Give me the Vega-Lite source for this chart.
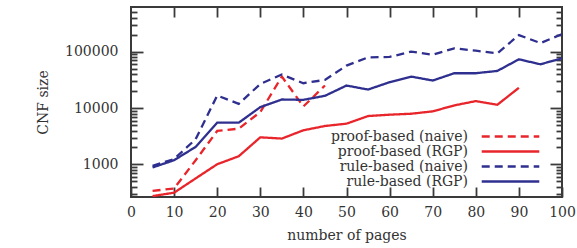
{
  "$schema": "https://vega.github.io/schema/vega-lite/v6.json",
  "width": 431,
  "height": 190,
  "autosize": {"type": "none"},
  "padding": {"left": 131, "top": 7, "right": 15, "bottom": 51},
  "background": "white",
  "config": {
    "font": "DejaVu Serif",
    "view": {"stroke": "#3a3a3a", "strokeWidth": 2},
    "axis": {
      "labelFont": "DejaVu Serif",
      "titleFont": "DejaVu Serif",
      "labelFontSize": 14,
      "titleFontSize": 14,
      "titleFontWeight": "normal",
      "labelColor": "#333",
      "titleColor": "#333",
      "tickColor": "#3a3a3a",
      "tickWidth": 1.8,
      "domain": false,
      "grid": false
    },
    "legend": {
      "labelFont": "DejaVu Serif",
      "labelFontSize": 14,
      "labelColor": "#333"
    }
  },
  "data": {
    "values": [
      {"pages": 5, "size": 340, "series": "proof-based (naive)"},
      {"pages": 10, "size": 375, "series": "proof-based (naive)"},
      {"pages": 15, "size": 1190, "series": "proof-based (naive)"},
      {"pages": 20, "size": 3930, "series": "proof-based (naive)"},
      {"pages": 25, "size": 4320, "series": "proof-based (naive)"},
      {"pages": 30, "size": 8500, "series": "proof-based (naive)"},
      {"pages": 35, "size": 36200, "series": "proof-based (naive)"},
      {"pages": 40, "size": 10700, "series": "proof-based (naive)"},
      {"pages": 45, "size": 25100, "series": "proof-based (naive)"},

      {"pages": 5, "size": 275, "series": "proof-based (RGP)"},
      {"pages": 10, "size": 316, "series": "proof-based (RGP)"},
      {"pages": 15, "size": 566, "series": "proof-based (RGP)"},
      {"pages": 20, "size": 1010, "series": "proof-based (RGP)"},
      {"pages": 25, "size": 1400, "series": "proof-based (RGP)"},
      {"pages": 30, "size": 3030, "series": "proof-based (RGP)"},
      {"pages": 35, "size": 2880, "series": "proof-based (RGP)"},
      {"pages": 40, "size": 4040, "series": "proof-based (RGP)"},
      {"pages": 45, "size": 4810, "series": "proof-based (RGP)"},
      {"pages": 50, "size": 5290, "series": "proof-based (RGP)"},
      {"pages": 55, "size": 7220, "series": "proof-based (RGP)"},
      {"pages": 60, "size": 7630, "series": "proof-based (RGP)"},
      {"pages": 65, "size": 7940, "series": "proof-based (RGP)"},
      {"pages": 70, "size": 8740, "series": "proof-based (RGP)"},
      {"pages": 75, "size": 11150, "series": "proof-based (RGP)"},
      {"pages": 80, "size": 13300, "series": "proof-based (RGP)"},
      {"pages": 85, "size": 11450, "series": "proof-based (RGP)"},
      {"pages": 90, "size": 22900, "series": "proof-based (RGP)"},

      {"pages": 5, "size": 946, "series": "rule-based (naive)"},
      {"pages": 10, "size": 1250, "series": "rule-based (naive)"},
      {"pages": 15, "size": 2800, "series": "rule-based (naive)"},
      {"pages": 20, "size": 16700, "series": "rule-based (naive)"},
      {"pages": 25, "size": 11900, "series": "rule-based (naive)"},
      {"pages": 30, "size": 26800, "series": "rule-based (naive)"},
      {"pages": 35, "size": 39300, "series": "rule-based (naive)"},
      {"pages": 40, "size": 27600, "series": "rule-based (naive)"},
      {"pages": 45, "size": 31600, "series": "rule-based (naive)"},
      {"pages": 50, "size": 56600, "series": "rule-based (naive)"},
      {"pages": 55, "size": 79400, "series": "rule-based (naive)"},
      {"pages": 60, "size": 80800, "series": "rule-based (naive)"},
      {"pages": 65, "size": 100000, "series": "rule-based (naive)"},
      {"pages": 70, "size": 88500, "series": "rule-based (naive)"},
      {"pages": 75, "size": 114500, "series": "rule-based (naive)"},
      {"pages": 80, "size": 104000, "series": "rule-based (naive)"},
      {"pages": 85, "size": 93500, "series": "rule-based (naive)"},
      {"pages": 90, "size": 197000, "series": "rule-based (naive)"},
      {"pages": 95, "size": 142000, "series": "rule-based (naive)"},
      {"pages": 100, "size": 205000, "series": "rule-based (naive)"},

      {"pages": 5, "size": 885, "series": "rule-based (RGP)"},
      {"pages": 10, "size": 1190, "series": "rule-based (RGP)"},
      {"pages": 15, "size": 2050, "series": "rule-based (RGP)"},
      {"pages": 20, "size": 5500, "series": "rule-based (RGP)"},
      {"pages": 25, "size": 5500, "series": "rule-based (RGP)"},
      {"pages": 30, "size": 10400, "series": "rule-based (RGP)"},
      {"pages": 35, "size": 14200, "series": "rule-based (RGP)"},
      {"pages": 40, "size": 14000, "series": "rule-based (RGP)"},
      {"pages": 45, "size": 16500, "series": "rule-based (RGP)"},
      {"pages": 50, "size": 25100, "series": "rule-based (RGP)"},
      {"pages": 55, "size": 21300, "series": "rule-based (RGP)"},
      {"pages": 60, "size": 28800, "series": "rule-based (RGP)"},
      {"pages": 65, "size": 36200, "series": "rule-based (RGP)"},
      {"pages": 70, "size": 30800, "series": "rule-based (RGP)"},
      {"pages": 75, "size": 41500, "series": "rule-based (RGP)"},
      {"pages": 80, "size": 41500, "series": "rule-based (RGP)"},
      {"pages": 85, "size": 45600, "series": "rule-based (RGP)"},
      {"pages": 90, "size": 73200, "series": "rule-based (RGP)"},
      {"pages": 95, "size": 59800, "series": "rule-based (RGP)"},
      {"pages": 100, "size": 76300, "series": "rule-based (RGP)"}
    ]
  },
  "resolve": {"axis": {"x": "independent", "y": "independent"}},
  "layer": [
    {
      "mark": {"type": "line", "strokeWidth": 2.3, "clip": true},
      "encoding": {
        "x": {
          "field": "pages", "type": "quantitative",
          "scale": {"domain": [0, 100], "nice": false},
          "axis": {
            "orient": "bottom",
            "values": [0, 10, 20, 30, 40, 50, 60, 70, 80, 90, 100],
            "tickSize": -10,
            "labelPadding": 18,
            "title": "number of pages",
            "titlePadding": 9,
            "labelFlush": false
          }
        },
        "y": {
          "field": "size", "type": "quantitative",
          "scale": {"type": "log", "domain": [265, 620000], "nice": false},
          "axis": {
            "orient": "left",
            "values": [1000, 10000, 100000],
            "format": "d",
            "tickSize": -12,
            "labelPadding": 25,
            "title": "CNF size",
            "titlePadding": 14
          }
        },
        "color": {
          "field": "series", "type": "nominal",
          "scale": {
            "domain": ["proof-based (naive)", "proof-based (RGP)", "rule-based (naive)", "rule-based (RGP)"],
            "range": ["#e8252b", "#e8252b", "#2e2f8f", "#2e2f8f"]
          },
          "legend": {
            "title": null,
            "orient": "none",
            "legendX": 337,
            "legendY": 122,
            "padding": 0,
            "rowPadding": -1.5,
            "symbolType": "M-4.7,0H4.7",
            "symbolSize": 150,
            "symbolStrokeWidth": 2.3,
            "symbolOffset": 35,
            "labelOffset": -50,
            "labelAlign": "right"
          }
        },
        "strokeDash": {
          "field": "series", "type": "nominal",
          "scale": {
            "domain": ["proof-based (naive)", "proof-based (RGP)", "rule-based (naive)", "rule-based (RGP)"],
            "range": [[8, 5], [1, 0], [8, 5], [1, 0]]
          },
          "legend": {
            "title": null,
            "orient": "none",
            "legendX": 337,
            "legendY": 122,
            "padding": 0,
            "rowPadding": -1.5,
            "symbolType": "M-4.7,0H4.7",
            "symbolSize": 150,
            "symbolStrokeWidth": 2.3,
            "symbolOffset": 35,
            "labelOffset": -50,
            "labelAlign": "right"
          }
        }
      }
    },
    {
      "mark": {"type": "point", "opacity": 0},
      "encoding": {
        "x": {
          "field": "pages", "type": "quantitative",
          "scale": {"domain": [0, 100], "nice": false},
          "axis": {
            "orient": "top",
            "values": [10, 20, 30, 40, 50, 60, 70, 80, 90],
            "tickSize": -10,
            "labels": false,
            "title": null
          }
        },
        "y": {
          "field": "size", "type": "quantitative",
          "scale": {"type": "log", "domain": [265, 620000], "nice": false},
          "axis": {
            "orient": "left",
            "values": [300, 400, 500, 600, 700, 800, 900, 2000, 3000, 4000, 5000, 6000, 7000, 8000, 9000, 20000, 30000, 40000, 50000, 60000, 70000, 80000, 90000, 200000, 300000, 400000, 500000],
            "tickSize": -6,
            "labels": false,
            "title": null
          }
        }
      }
    },
    {
      "mark": {"type": "point", "opacity": 0},
      "encoding": {
        "x": {"field": "pages", "type": "quantitative", "scale": {"domain": [0, 100], "nice": false}, "axis": null},
        "y": {
          "field": "size", "type": "quantitative",
          "scale": {"type": "log", "domain": [265, 620000], "nice": false},
          "axis": {
            "orient": "right",
            "values": [1000, 10000, 100000],
            "tickSize": -12,
            "labels": false,
            "title": null
          }
        }
      }
    },
    {
      "mark": {"type": "point", "opacity": 0},
      "encoding": {
        "x": {"field": "pages", "type": "quantitative", "scale": {"domain": [0, 100], "nice": false}, "axis": null},
        "y": {
          "field": "size", "type": "quantitative",
          "scale": {"type": "log", "domain": [265, 620000], "nice": false},
          "axis": {
            "orient": "right",
            "values": [300, 400, 500, 600, 700, 800, 900, 2000, 3000, 4000, 5000, 6000, 7000, 8000, 9000, 20000, 30000, 40000, 50000, 60000, 70000, 80000, 90000, 200000, 300000, 400000, 500000],
            "tickSize": -6,
            "labels": false,
            "title": null
          }
        }
      }
    }
  ]
}
